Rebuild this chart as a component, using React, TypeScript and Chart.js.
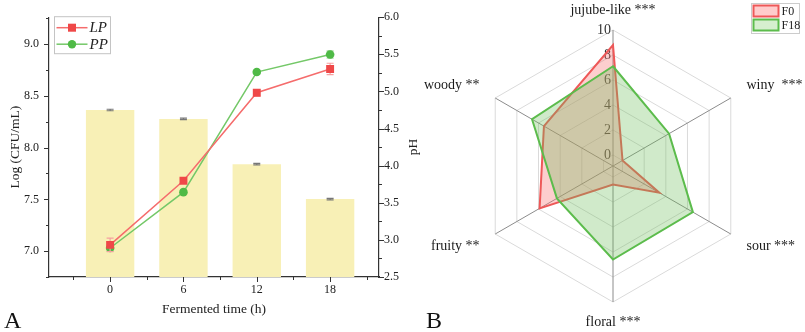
import React, { useEffect, useRef } from 'react';
import { Chart, registerables } from 'chart.js';

Chart.register(...registerables);

const SERIF = "'Liberation Serif', 'Times New Roman', Times, serif";

// ---------- Panel A data ----------
const timePoints = [0, 6, 12, 18];
const xTickValues = [0, 6, 12, 18];
const xMinorTickValues = [-3, 3, 9, 15, 21];
const lpCounts = [7.06, 7.68, 8.53, 8.76];
const lpErrors = [0.065, 0.02, 0.03, 0.055];
const ppCounts = [7.03, 7.57, 8.73, 8.9];
const ppErrors = [0.03, 0.02, 0.02, 0.035];
const phValues = [4.75, 4.63, 4.02, 3.55];
const phErrors = [0.01, 0.01, 0.01, 0.01];
const logTickValues = [7.0, 7.5, 8.0, 8.5, 9.0];
const logMinorTickValues = [6.75, 7.25, 7.75, 8.25, 8.75, 9.25];
const phTickValues = [2.5, 3.0, 3.5, 4.0, 4.5, 5.0, 5.5, 6.0];
const phMinorTickValues = [2.75, 3.25, 3.75, 4.25, 4.75, 5.25, 5.75];

// ---------- Panel B data ----------
const flavorLabels = ['jujube-like ***', 'winy  ***', 'sour ***', 'floral ***', 'fruity **', 'woody **'];
const f0Scores = [8.8, 0.0, 3.4, 0.6, 5.9, 5.5];
const f18Scores = [7.1, 4.3, 6.5, 6.6, 4.3, 6.6];
const radarTickValues = [0, 2, 4, 6, 8, 10];

// ---------- styles ----------
const AXIS = '#333333';
const TEXT = '#222222';
const LP_LINE = '#f56c6c';
const LP_MARK = '#ef4848';
const LP_ERR = '#f6a0a0';
const PP_LINE = '#74c868';
const PP_MARK = '#4fba46';
const PP_ERR = '#a6dca0';
const BAR = '#f8f0b6';
const F0_LINE = '#ee5858';
const F0_FILL = 'rgba(250, 110, 110, 0.34)';
const F18_LINE = '#5cbc4c';
const F18_FILL = 'rgba(110, 190, 90, 0.32)';

function drawErrorBars(chart: any, values: number[], errors: number[], yId: string, color: string, cap: number) {
  const { ctx, scales } = chart;
  const xs = scales.x;
  const ys = scales[yId];
  ctx.save();
  ctx.strokeStyle = color;
  ctx.lineWidth = 1.2;
  values.forEach((v, k) => {
    const x = xs.getPixelForValue(timePoints[k]);
    const y1 = ys.getPixelForValue(v + errors[k]);
    const y2 = ys.getPixelForValue(v - errors[k]);
    ctx.beginPath();
    ctx.moveTo(x, y1);
    ctx.lineTo(x, y2);
    ctx.moveTo(x - cap, y1);
    ctx.lineTo(x + cap, y1);
    ctx.moveTo(x - cap, y2);
    ctx.lineTo(x + cap, y2);
    ctx.stroke();
  });
  ctx.restore();
}

const panelAPlugin = {
  id: 'panelA',
  beforeDatasetDraw(chart: any, args: any) {
    if (args.index === 0) drawErrorBars(chart, lpCounts, lpErrors, 'y', LP_ERR, 3.5);
    if (args.index === 1) drawErrorBars(chart, ppCounts, ppErrors, 'y', PP_ERR, 3.5);
  },
  afterDatasetDraw(chart: any, args: any) {
    if (args.index === 2) drawErrorBars(chart, phValues, phErrors, 'y1', '#777777', 3.5);
  },
  afterDraw(chart: any) {
    const { ctx, chartArea: ca, scales } = chart;
    ctx.save();
    ctx.strokeStyle = AXIS;
    ctx.lineWidth = 1;
    const seg = (x1: number, y1: number, x2: number, y2: number) => {
      ctx.beginPath();
      ctx.moveTo(x1, y1);
      ctx.lineTo(x2, y2);
      ctx.stroke();
    };
    xTickValues.forEach((v) => {
      const x = Math.round(scales.x.getPixelForValue(v)) + 0.5;
      seg(x, ca.bottom, x, ca.bottom + 5);
    });
    xMinorTickValues.forEach((v) => {
      const x = Math.round(scales.x.getPixelForValue(v)) + 0.5;
      seg(x, ca.bottom, x, ca.bottom + 3);
    });
    logTickValues.forEach((v) => {
      const y = Math.round(scales.y.getPixelForValue(v)) + 0.5;
      seg(ca.left - 5, y, ca.left, y);
    });
    logMinorTickValues.forEach((v) => {
      const y = Math.round(scales.y.getPixelForValue(v)) + 0.5;
      seg(ca.left - 3, y, ca.left, y);
    });
    phTickValues.forEach((v) => {
      const y = Math.round(scales.y1.getPixelForValue(v)) + 0.5;
      seg(ca.right, y, ca.right + 5, y);
    });
    phMinorTickValues.forEach((v) => {
      const y = Math.round(scales.y1.getPixelForValue(v)) + 0.5;
      seg(ca.right, y, ca.right + 3, y);
    });

    // legend box
    const bx = ca.left + 5.5;
    const by = ca.top - 0.5;
    const bw = 56;
    const bh = 37;
    ctx.strokeStyle = '#c4c4c4';
    ctx.lineWidth = 1;
    ctx.strokeRect(bx, by, bw, bh);
    const rows = [
      { label: 'LP', line: LP_LINE, mark: LP_MARK, square: true, y: by + 11 },
      { label: 'PP', line: PP_LINE, mark: PP_MARK, square: false, y: by + 27.5 },
    ];
    rows.forEach((r) => {
      ctx.strokeStyle = r.line;
      ctx.lineWidth = 1.5;
      seg(bx + 2, r.y, bx + 33, r.y);
      ctx.fillStyle = r.mark;
      if (r.square) {
        ctx.fillRect(bx + 17.5 - 4, r.y - 4, 8, 8);
      } else {
        ctx.beginPath();
        ctx.arc(bx + 17.5, r.y, 4.2, 0, Math.PI * 2);
        ctx.fill();
      }
      ctx.fillStyle = TEXT;
      ctx.font = `italic 15px ${SERIF}`;
      ctx.textAlign = 'left';
      ctx.textBaseline = 'middle';
      ctx.fillText(r.label, bx + 35, r.y + 0.5);
    });

    // right axis title (reads bottom to top)
    ctx.save();
    ctx.translate(scales.y1.right - 9, (ca.top + ca.bottom) / 2);
    ctx.rotate(-Math.PI / 2);
    ctx.fillStyle = TEXT;
    ctx.font = `13.5px ${SERIF}`;
    ctx.textAlign = 'center';
    ctx.textBaseline = 'middle';
    ctx.fillText('pH', 0, 0);
    ctx.restore();

    // panel letter
    ctx.fillStyle = '#111';
    ctx.font = `24px ${SERIF}`;
    ctx.textAlign = 'left';
    ctx.textBaseline = 'alphabetic';
    ctx.fillText('A', 4, 328);
    ctx.restore();
  },
};

const panelBPlugin = {
  id: 'panelB',
  beforeDatasetsDraw(chart: any) {
    const { ctx } = chart;
    const s = chart.scales.r;
    ctx.save();
    ctx.fillStyle = '#333333';
    ctx.font = `14px ${SERIF}`;
    ctx.textAlign = 'right';
    ctx.textBaseline = 'middle';
    radarTickValues.forEach((v) => {
      const p = s.getPointPositionForValue(0, v);
      ctx.fillText(String(v), p.x - 2, p.y);
    });
    ctx.restore();
  },
  afterDraw(chart: any) {
    const { ctx } = chart;
    const s = chart.scales.r;
    ctx.save();
    ctx.fillStyle = '#1a1a1a';
    ctx.font = `14px ${SERIF}`;
    ctx.textBaseline = 'middle';
    flavorLabels.forEach((label, i) => {
      if (i === 0 || i === 3) {
        const p = s.getPointPosition(i, s.drawingArea + 20);
        ctx.textAlign = 'center';
        ctx.fillText(label, p.x, p.y);
      } else {
        const p = s.getPointPosition(i, s.drawingArea + 25);
        const right = i === 1 || i === 2;
        ctx.textAlign = right ? 'left' : 'right';
        ctx.fillText(label, right ? p.x - 6 : p.x + 6, p.y);
      }
    });

    // legend
    const bx = chart.width - 53.5;
    const by = 3.5;
    ctx.strokeStyle = '#cccccc';
    ctx.lineWidth = 1;
    ctx.strokeRect(bx, by, 48, 30);
    const items = [
      { label: 'F0', line: F0_LINE, fill: '#ffcccc', y: by + 2 },
      { label: 'F18', line: F18_LINE, fill: '#d6efcf', y: by + 16 },
    ];
    items.forEach((it) => {
      ctx.fillStyle = it.fill;
      ctx.fillRect(bx + 2, it.y, 25, 11);
      ctx.strokeStyle = it.line;
      ctx.lineWidth = 2;
      ctx.strokeRect(bx + 2, it.y, 25, 11);
      ctx.fillStyle = TEXT;
      ctx.font = `12px ${SERIF}`;
      ctx.textAlign = 'left';
      ctx.textBaseline = 'middle';
      ctx.fillText(it.label, bx + 30, it.y + 6);
    });

    ctx.fillStyle = '#111';
    ctx.font = `24px ${SERIF}`;
    ctx.textAlign = 'left';
    ctx.textBaseline = 'alphabetic';
    ctx.fillText('B', 4, 328);
    ctx.restore();
  },
};

export default function App() {
  const aRef = useRef<HTMLCanvasElement>(null);
  const bRef = useRef<HTMLCanvasElement>(null);

  useEffect(() => {
    const chartA = new Chart(aRef.current as HTMLCanvasElement, {
      type: 'bar',
      data: {
        datasets: [
          {
            type: 'line',
            label: 'LP',
            data: timePoints.map((t, i) => ({ x: t, y: lpCounts[i] })),
            yAxisID: 'y',
            borderColor: LP_LINE,
            borderWidth: 1.5,
            pointStyle: 'rect',
            pointRadius: 5.6,
            pointBackgroundColor: LP_MARK,
            pointBorderColor: LP_MARK,
            pointBorderWidth: 0,
            order: 1,
          } as any,
          {
            type: 'line',
            label: 'PP',
            data: timePoints.map((t, i) => ({ x: t, y: ppCounts[i] })),
            yAxisID: 'y',
            borderColor: PP_LINE,
            borderWidth: 1.5,
            pointStyle: 'circle',
            pointRadius: 4.3,
            pointBackgroundColor: PP_MARK,
            pointBorderColor: PP_MARK,
            pointBorderWidth: 0,
            order: 2,
          } as any,
          {
            type: 'bar',
            label: 'pH',
            data: timePoints.map((t, i) => ({ x: t, y: phValues[i] })),
            yAxisID: 'y1',
            backgroundColor: BAR,
            borderWidth: 0,
            barPercentage: 0.66,
            categoryPercentage: 1,
            order: 3,
          } as any,
        ],
      },
      options: {
        responsive: false,
        animation: false,
        layout: { padding: { top: 16, left: 0, right: 0, bottom: 0 } },
        plugins: { legend: { display: false }, tooltip: { enabled: false } },
        scales: {
          x: {
            type: 'linear',
            offset: false,
            min: -5,
            max: 22,
            afterBuildTicks: (s: any) => {
              s.ticks = xTickValues.map((v) => ({ value: v }));
            },
            afterFit: (s: any) => {
              s.height = 55;
            },
            grid: { display: false, drawTicks: false, offset: false },
            border: { display: true, color: AXIS, width: 1.2 },
            ticks: {
              padding: 6,
              color: TEXT,
              font: { family: SERIF, size: 12 },
              callback: (v: any) => String(v),
            },
            title: {
              display: true,
              text: 'Fermented time (h)',
              color: TEXT,
              font: { family: SERIF, size: 13.5 },
              padding: { top: 0, bottom: 14 },
            },
          },
          y: {
            type: 'linear',
            position: 'left',
            min: 6.75,
            max: 9.26,
            afterBuildTicks: (s: any) => {
              s.ticks = logTickValues.map((v) => ({ value: v }));
            },
            afterFit: (s: any) => {
              s.width = 49;
            },
            grid: { display: false, drawTicks: false },
            border: { display: true, color: AXIS, width: 1.2 },
            ticks: {
              padding: 10,
              color: TEXT,
              font: { family: SERIF, size: 12 },
              callback: (v: any) => Number(v).toFixed(1),
            },
            title: {
              display: true,
              text: 'Log (CFU/mL)',
              color: TEXT,
              font: { family: SERIF, size: 13.5 },
              padding: { top: 7, bottom: 0 },
            },
          },
          y1: {
            type: 'linear',
            position: 'right',
            min: 2.5,
            max: 6.0,
            afterBuildTicks: (s: any) => {
              s.ticks = phTickValues.map((v) => ({ value: v }));
            },
            afterFit: (s: any) => {
              s.width = 43;
            },
            grid: { display: false, drawTicks: false },
            border: { display: true, color: AXIS, width: 1.2 },
            ticks: {
              padding: 5,
              color: TEXT,
              font: { family: SERIF, size: 12 },
              callback: (v: any) => Number(v).toFixed(1),
            },
          },
        },
      } as any,
      plugins: [panelAPlugin],
    });

    const chartB = new Chart(bRef.current as HTMLCanvasElement, {
      type: 'radar',
      data: {
        labels: flavorLabels,
        datasets: [
          {
            label: 'F0',
            data: f0Scores,
            borderColor: F0_LINE,
            backgroundColor: F0_FILL,
            borderWidth: 2,
            pointRadius: 0,
            fill: 'start',
            order: 2,
          } as any,
          {
            label: 'F18',
            data: f18Scores,
            borderColor: F18_LINE,
            backgroundColor: F18_FILL,
            borderWidth: 2,
            pointRadius: 0,
            fill: 'start',
            order: 1,
          } as any,
        ],
      },
      options: {
        responsive: false,
        animation: false,
        layout: { padding: { top: 30, bottom: 30, left: 0, right: 0 } },
        plugins: { legend: { display: false }, tooltip: { enabled: false } },
        scales: {
          r: {
            min: -0.88,
            max: 10,
            afterBuildTicks: (s: any) => {
              s.ticks = radarTickValues.map((v) => ({ value: v }));
            },
            ticks: { display: false },
            pointLabels: { display: false },
            grid: { color: '#dadada', lineWidth: 1 },
            angleLines: { color: '#8c8c8c', lineWidth: 1 },
          },
        },
      } as any,
      plugins: [panelBPlugin],
    });

    return () => {
      chartA.destroy();
      chartB.destroy();
    };
  }, []);

  return (
    <div style={{ position: 'absolute', left: 0, top: 0, width: 805, height: 332, background: '#ffffff' }}>
      <canvas ref={aRef} width={422} height={332} style={{ position: 'absolute', left: 0, top: 0 }} />
      <canvas ref={bRef} width={383} height={332} style={{ position: 'absolute', left: 422, top: 0 }} />
    </div>
  );
}
